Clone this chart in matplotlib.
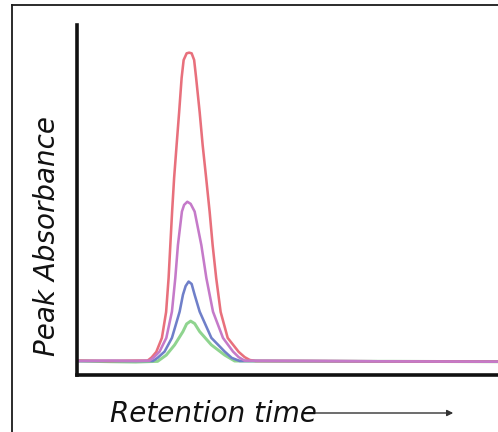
import matplotlib
matplotlib.use("Agg")
import matplotlib.pyplot as plt
from matplotlib.lines import Line2D
from matplotlib.patches import FancyArrowPatch

# Retention time (arbitrary units) and peak absorbance (arbitrary units)
red_t = [0, 0.8, 1.4, 1.686, 1.781, 1.893, 2.026, 2.126, 2.185, 2.226, 2.268, 2.316, 2.375,
         2.435, 2.494, 2.542, 2.613, 2.672, 2.732, 2.791, 2.838, 2.922, 2.993, 3.076, 3.159,
         3.230, 3.314, 3.420, 3.587, 3.848, 3.990, 4.109, 4.25, 5.5, 7.5, 10.0]
red_a = [0.041, 0.040, 0.041, 0.041, 0.050, 0.066, 0.106, 0.180, 0.277, 0.371, 0.466, 0.563,
         0.657, 0.751, 0.849, 0.900, 0.919, 0.921, 0.919, 0.900, 0.849, 0.751, 0.657, 0.563,
         0.466, 0.371, 0.277, 0.180, 0.106, 0.066, 0.051, 0.043, 0.040, 0.040, 0.039, 0.038]

magenta_t = [0, 0.8, 1.4, 1.734, 1.841, 1.971, 2.131, 2.264, 2.344, 2.406, 2.501, 2.553,
             2.629, 2.708, 2.803, 2.962, 3.081, 3.238, 3.475, 3.713, 3.848, 3.990, 5.5, 7.5, 10.0]
magenta_a = [0.040, 0.041, 0.040, 0.041, 0.051, 0.067, 0.106, 0.181, 0.277, 0.371, 0.467,
             0.486, 0.495, 0.489, 0.467, 0.371, 0.277, 0.181, 0.106, 0.067, 0.051, 0.041,
             0.040, 0.039, 0.038]

blue_t = [0, 0.8, 1.4, 1.812, 1.924, 2.090, 2.264, 2.447, 2.525, 2.589, 2.660, 2.732, 2.803,
          2.922, 3.200, 3.515, 3.682, 3.872, 5.5, 7.5, 10.0]
blue_a = [0.040, 0.040, 0.040, 0.040, 0.049, 0.067, 0.106, 0.181, 0.229, 0.254, 0.267, 0.260,
          0.229, 0.181, 0.106, 0.067, 0.049, 0.040, 0.040, 0.039, 0.038]

green_t = [0, 0.8, 1.4, 1.924, 2.131, 2.328, 2.525, 2.613, 2.708, 2.803, 2.922, 3.200, 3.515,
           3.753, 5.5, 7.5, 10.0]
green_a = [0.040, 0.038, 0.037, 0.039, 0.057, 0.086, 0.124, 0.146, 0.154, 0.147, 0.124, 0.086,
           0.057, 0.040, 0.039, 0.039, 0.038]

x_label = "Retention time"
y_label = "Peak Absorbance"

W, H = 498, 432
fig = plt.figure(figsize=(W / 100, H / 100), dpi=100)
fig.patch.set_facecolor("white")

# outer frame (top and left edges visible)
fig.add_artist(Line2D([12 / W, 12 / W], [0, 1 - 5 / H], transform=fig.transFigure,
                      color="#1a1a1a", lw=1.3))
fig.add_artist(Line2D([12 / W, 1], [1 - 5 / H, 1 - 5 / H], transform=fig.transFigure,
                      color="#1a1a1a", lw=1.3))

ax = fig.add_axes([76.5 / W, (H - 375) / H, (W - 76.5) / W, (375 - 25) / H])
ax.set_xlim(0, 10)
ax.set_ylim(0, 1.0)
for s in ["top", "right"]:
    ax.spines[s].set_visible(False)
for s in ["left", "bottom"]:
    ax.spines[s].set_linewidth(2.6)
    ax.spines[s].set_color("#111111")
ax.set_xticks([])
ax.set_yticks([])

lw = 1.85
ax.plot(green_t, green_a, color="#8fd48f", lw=lw + 0.3, solid_joinstyle="round")
ax.plot(blue_t, blue_a, color="#6f7fc9", lw=lw, solid_joinstyle="round")
ax.plot(red_t, red_a, color="#e8707c", lw=lw, solid_joinstyle="round")
ax.plot(magenta_t, magenta_a, color="#c57ac9", lw=lw, solid_joinstyle="round")

fig.text(110 / W, (H - 421.5) / H, x_label, fontsize=20, style="italic",
         family="DejaVu Sans", ha="left", va="baseline", color="#111111")
fig.text(47 / W, (H - 236.5) / H, y_label, fontsize=20, style="italic",
         family="DejaVu Sans", ha="center", va="center", rotation=90, color="#111111")

fig.add_artist(FancyArrowPatch(
    (310 / W, (H - 413) / H), (456 / W, (H - 413) / H), transform=fig.transFigure,
    arrowstyle="-|>", mutation_scale=9, color="#333333", lw=1.0))

fig.savefig("out.png", dpi=100, facecolor="white")
